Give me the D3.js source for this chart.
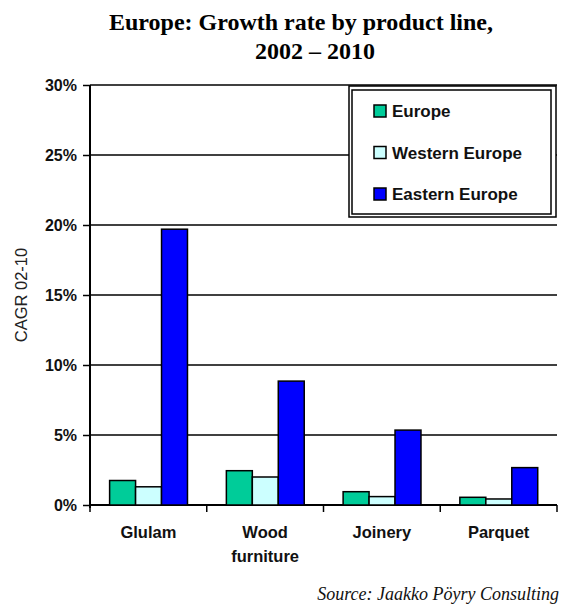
<!DOCTYPE html>
<html>
<head>
<meta charset="utf-8">
<script src="https://cdn.jsdelivr.net/npm/d3@7"></script>
<style>
  body { margin: 0; background: #fff; }
</style>
</head>
<body>
<div id="chart"></div>
<script>
// Europe growth rate chart, grouped bars

const categories = [["Glulam"], ["Wood", "furniture"], ["Joinery"], ["Parquet"]];
const seriesNames = ["Europe", "Western Europe", "Eastern Europe"];
const seriesColors = ["#00CC99", "#CCFFFF", "#0000FF"];
const europe = [1.75, 2.45, 0.95, 0.55];
const westernEurope = [1.3, 2.0, 0.6, 0.43];
const easternEurope = [19.7, 8.85, 5.35, 2.67];
const yTicks = [0, 5, 10, 15, 20, 25, 30];

const width = 564, height = 606;
const plotLeft = 90, plotRight = 557, plotTop = 85, plotBottom = 505;
const sans = "'Liberation Sans', Arial, sans-serif";
const serif = "'Liberation Serif', 'Times New Roman', serif";

const svg = d3.select("#chart").append("svg")
  .attr("width", width)
  .attr("height", height);

const catKeys = categories.map(c => c.join(" "));
const x0 = d3.scaleBand().domain(catKeys).range([plotLeft, plotRight]);
const x1 = d3.scaleBand().domain(seriesNames)
  .range([x0.bandwidth() * 0.168, x0.bandwidth() * 0.835]);
const y = d3.scaleLinear().domain([0, 30]).range([plotBottom, plotTop]);

// Title
svg.append("text")
  .attr("x", 301).attr("y", 30)
  .attr("text-anchor", "middle")
  .style("font-family", serif)
  .style("font-weight", "bold")
  .style("font-size", "24px")
  .text("Europe: Growth rate by product line,");
svg.append("text")
  .attr("x", 315).attr("y", 59)
  .attr("text-anchor", "middle")
  .style("font-family", serif)
  .style("font-weight", "bold")
  .style("font-size", "24px")
  .text("2002 \u2013 2010");

// Gridlines
svg.append("g").selectAll("line")
  .data(yTicks.filter(d => d > 0))
  .enter().append("line")
  .attr("x1", plotLeft).attr("x2", plotRight)
  .attr("y1", d => y(d)).attr("y2", d => y(d))
  .attr("stroke", "#000").attr("stroke-width", 1.5);

// Y axis
const yAxis = svg.append("g")
  .attr("transform", `translate(${plotLeft},0)`)
  .call(d3.axisLeft(y).tickValues(yTicks).tickSize(7).tickPadding(6).tickFormat(d => d + "%"));
yAxis.select(".domain").attr("stroke-width", 2).attr("d", `M0,${plotTop}V${plotBottom + 3}`);
yAxis.selectAll(".tick line").attr("stroke-width", 1.5);
yAxis.selectAll("text")
  .style("font-family", sans)
  .style("font-weight", "bold")
  .style("font-size", "16px")
  .attr("fill", "#111");

// X axis baseline with ticks at category boundaries
svg.append("line")
  .attr("x1", plotLeft).attr("x2", plotRight)
  .attr("y1", plotBottom).attr("y2", plotBottom)
  .attr("stroke", "#000").attr("stroke-width", 2);
const bounds = catKeys.map(k => x0(k)).concat([plotRight]);
svg.append("g").selectAll("line")
  .data(bounds)
  .enter().append("line")
  .attr("x1", d => d).attr("x2", d => d)
  .attr("y1", plotBottom).attr("y2", plotBottom + 7)
  .attr("stroke", "#000").attr("stroke-width", 1.5);

// Bars
const values = [europe, westernEurope, easternEurope];
const groups = svg.append("g").selectAll("g")
  .data(catKeys)
  .enter().append("g")
  .attr("transform", d => `translate(${x0(d)},0)`);
groups.selectAll("rect")
  .data((d, i) => seriesNames.map((s, j) => ({ s, j, v: values[j][i] })))
  .enter().append("rect")
  .attr("x", d => x1(d.s))
  .attr("width", x1.bandwidth())
  .attr("y", d => y(d.v))
  .attr("height", d => y(0) - y(d.v))
  .attr("fill", d => seriesColors[d.j])
  .attr("stroke", "#000")
  .attr("stroke-width", 1.5);

// Category labels
const catLabels = svg.append("g").selectAll("text")
  .data(categories)
  .enter().append("text")
  .attr("x", (d, i) => x0(catKeys[i]) + x0.bandwidth() / 2)
  .attr("y", 538)
  .attr("text-anchor", "middle")
  .style("font-family", sans)
  .style("font-weight", "bold")
  .style("font-size", "16.5px")
  .attr("fill", "#111");
catLabels.selectAll("tspan")
  .data(d => d)
  .enter().append("tspan")
  .attr("x", function () { return this.parentNode.getAttribute("x"); })
  .attr("dy", (d, i) => i === 0 ? 0 : 24)
  .text(d => d);

// Y axis title
svg.append("text")
  .attr("transform", "translate(27,295) rotate(-90)")
  .attr("text-anchor", "middle")
  .style("font-family", sans)
  .style("font-size", "16.5px")
  .attr("fill", "#222")
  .text("CAGR 02-10");

// Legend
const lg = svg.append("g");
lg.append("rect")
  .attr("x", 349).attr("y", 86).attr("width", 207).attr("height", 131)
  .attr("fill", "#fff").attr("stroke", "#000").attr("stroke-width", 1.5);
lg.append("rect")
  .attr("x", 352).attr("y", 90).attr("width", 199).attr("height", 124)
  .attr("fill", "none").attr("stroke", "#000").attr("stroke-width", 1.5);
const items = lg.selectAll("g.item")
  .data(seriesNames)
  .enter().append("g")
  .attr("class", "item")
  .attr("transform", (d, i) => `translate(374,${111 + i * 41.5})`);
items.append("rect")
  .attr("x", 0).attr("y", -6).attr("width", 12).attr("height", 12)
  .attr("fill", (d, i) => seriesColors[i])
  .attr("stroke", "#000").attr("stroke-width", 1.5);
items.append("text")
  .attr("x", 18).attr("y", 6)
  .style("font-family", sans)
  .style("font-weight", "bold")
  .style("font-size", "17px")
  .attr("fill", "#111")
  .text(d => d);

// Source
svg.append("text")
  .attr("x", 559).attr("y", 600)
  .attr("text-anchor", "end")
  .style("font-family", serif)
  .style("font-style", "italic")
  .style("font-size", "18px")
  .attr("fill", "#111")
  .text("Source: Jaakko P\u00f6yry Consulting");
</script>
</body>
</html>
